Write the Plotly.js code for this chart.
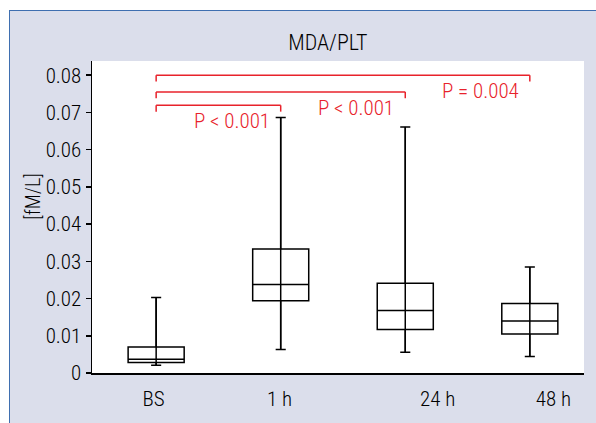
<!DOCTYPE html>
<html>
<head>
<meta charset="utf-8">
<script src="https://cdn.plot.ly/plotly-3.0.1.min.js"></script>
<style>
  html, body { margin: 0; padding: 0; background: #ffffff; }
  #wrap { position: absolute; left: 0; top: 0; width: 596px; height: 423px; background: #ffffff; }
  #chart { position: absolute; left: 9px; top: 10px; width: 587px; height: 413px;
           border-left: 1.5px solid #3f6fb0; border-top: 1.5px solid #3f6fb0; box-sizing: border-box; }
</style>
</head>
<body>
<div id="wrap"><div id="chart"></div></div>
<script>
// ---- data ----
const categories = ["BS", "1 h", "24 h", "48 h"];
const lowerWhisker = [0.0021, 0.0063, 0.0056, 0.0044];
const q1Values     = [0.0028, 0.0194, 0.0117, 0.0105];
const medianValues = [0.0037, 0.0238, 0.0168, 0.0140];
const q3Values     = [0.0070, 0.0333, 0.0241, 0.0187];
const upperWhisker = [0.0203, 0.0686, 0.0661, 0.0285];
// tick label positions (labels in the original are shifted from the boxes)
const tickPositions = [-0.02, 0.99, 2.26, 3.19];
// significance comparisons
const compFrom   = [0, 0, 0];
const compTo     = [1, 2, 3];
const compLevel  = [0.0719, 0.0755, 0.0800];
const compLabels = ["P < 0.001", "P < 0.001", "P = 0.004"];
const tickDrop = 0.0017;

const xPos = categories.map((c, i) => i);
const FONT = '"Roboto Condensed", Roboto, "Liberation Sans", Arial, sans-serif';
const W = 300;
const RED = '#e8222b';

// whisker lines through the box
const wx = [], wy = [];
xPos.forEach((x, i) => { wx.push(x, x, null); wy.push(lowerWhisker[i], upperWhisker[i], null); });

const traces = [
  { type: 'scatter', mode: 'lines', x: wx, y: wy, line: { color: '#000', width: 1.5 },
    hoverinfo: 'skip', showlegend: false },
  { type: 'box', x: xPos, q1: q1Values, median: medianValues, q3: q3Values,
    lowerfence: lowerWhisker, upperfence: upperWhisker,
    width: 0.45, whiskerwidth: 0.18,
    fillcolor: 'rgba(0,0,0,0)', line: { color: '#000', width: 1.5 },
    boxpoints: false, showlegend: false }
];

const shapes = [], annotations = [];
compFrom.forEach((a, i) => {
  const b = compTo[i], lv = compLevel[i];
  shapes.push({ type: 'line', xref: 'x', yref: 'y', x0: a, x1: b, y0: lv, y1: lv, line: { color: RED, width: 1.5 } });
  shapes.push({ type: 'line', xref: 'x', yref: 'y', x0: a, x1: a, y0: lv, y1: lv - tickDrop, line: { color: RED, width: 1.5 } });
  shapes.push({ type: 'line', xref: 'x', yref: 'y', x0: b, x1: b, y0: lv, y1: lv - tickDrop, line: { color: RED, width: 1.5 } });
  annotations.push({ xref: 'x', yref: 'y', x: b, y: lv, text: compLabels[i], showarrow: false,
    xanchor: 'right', yanchor: 'top', xshift: -9, yshift: -2,
    font: { family: FONT, size: 21, weight: W, color: RED } });
});
annotations.push({ xref: 'paper', yref: 'paper', x: -0.12, y: 0.565, text: '[fM/L]', textangle: -90,
  showarrow: false, xanchor: 'center', yanchor: 'middle', font: { family: FONT, size: 20, weight: W, color: '#000' } });

const layout = {
  width: 586, height: 412,
  margin: { l: 82, r: 12, t: 50, b: 50, pad: 0 },
  paper_bgcolor: '#dbdeeb',
  plot_bgcolor: '#ffffff',
  font: { family: FONT, size: 21, weight: W, color: '#000' },
  title: { text: 'MDA/PLT', x: 0.5425, xanchor: 'center', y: 0.925, yanchor: 'middle', yref: 'container',
           font: { family: FONT, size: 22, weight: W, color: '#000' } },
  xaxis: { range: [-0.515, 3.435], tickvals: tickPositions, ticktext: categories,
           showgrid: false, zeroline: false, showline: true, linecolor: '#000', linewidth: 1.5,
           ticks: '', ticklabelstandoff: 6, tickfont: { family: FONT, size: 21, weight: W }, fixedrange: true },
  yaxis: { range: [0, 0.0838], dtick: 0.01, tick0: 0, showgrid: false, zeroline: false,
           showline: true, linecolor: '#000', linewidth: 1.5, ticks: 'outside', ticklen: 5,
           tickwidth: 1.5, tickcolor: '#000', tickfont: { family: FONT, size: 21, weight: W }, fixedrange: true },
  shapes: shapes,
  annotations: annotations
};

Plotly.newPlot('chart', traces, layout, { displayModeBar: false, staticPlot: true });
</script>
</body>
</html>
